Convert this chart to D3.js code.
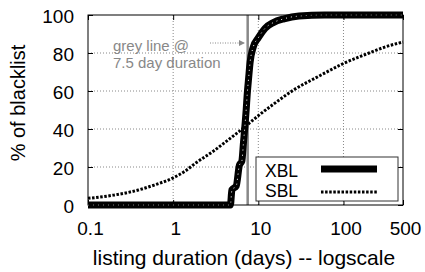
<!DOCTYPE html>
<html>
<head>
<meta charset="utf-8">
<script src="https://cdn.jsdelivr.net/npm/d3@7"></script>
<style>
  body { margin: 0; background: #fff; }
  svg { font-family: "Liberation Sans", Arial, sans-serif; }
</style>
</head>
<body>
<div id="chart"></div>
<script>
// listing duration (days) vs cumulative % of blacklist
const xblDays = [0.1, 4.7, 4.9, 5.5, 6.0, 6.4, 6.7, 7.2, 7.4, 7.7, 8.0, 8.7, 10, 12, 15, 20, 30, 60, 500];
const xblPct  = [0,   0,   8,   10,  21,  23,  33,  50,  58,  67,  75,  83,  88, 93, 96, 98, 99.5, 100, 100];

const sblDays = [0.1, 0.2, 0.39, 0.6, 1, 1.4, 1.8, 3, 4.5, 6.4, 10, 15, 27, 50, 100, 200, 300, 500];
const sblPct  = [3.5, 5.2, 7.9, 10.5, 14.3, 18, 21.8, 28.5, 34.5, 39.8, 47, 53, 61, 67.5, 74.5, 80, 83, 85.8];

const xTicks = [0.1, 1, 10, 100, 500];
const xTickLabels = ['0.1', '1', '10', '100', '500'];
const yTicks = [0, 20, 40, 60, 80, 100];
const greyLineDays = 7.5;

const width = 425, height = 272;
const margin = { top: 15, right: 22, bottom: 67, left: 88 };
const innerW = width - margin.left - margin.right;
const innerH = height - margin.top - margin.bottom;

const svg = d3.select('#chart').append('svg')
  .attr('width', width)
  .attr('height', height);

const g = svg.append('g')
  .attr('transform', `translate(${margin.left},${margin.top})`);

const x = d3.scaleLog().domain([0.1, 500]).range([0, innerW]);
const y = d3.scaleLinear().domain([0, 100]).range([innerH, 0]);

// dotted grid
g.append('g')
  .selectAll('line.gx')
  .data([1, 10, 100])
  .enter().append('line')
  .attr('x1', d => x(d)).attr('x2', d => x(d))
  .attr('y1', 0).attr('y2', innerH)
  .attr('stroke', '#888').attr('stroke-width', 1)
  .attr('stroke-dasharray', '1,2');
g.append('g')
  .selectAll('line.gy')
  .data([20, 40, 60, 80])
  .enter().append('line')
  .attr('x1', 0).attr('x2', innerW)
  .attr('y1', d => y(d)).attr('y2', d => y(d))
  .attr('stroke', '#888').attr('stroke-width', 1)
  .attr('stroke-dasharray', '1,2');

// axes with inward ticks
const xAxis = g.append('g')
  .attr('transform', `translate(0,${innerH})`)
  .call(d3.axisBottom(x).tickValues(xTicks)
    .tickFormat((d, i) => xTickLabels[i]).tickSize(-5).tickPadding(17));
const xAxisTop = g.append('g')
  .call(d3.axisTop(x).tickValues(xTicks).tickFormat('').tickSize(-5));
const yAxis = g.append('g')
  .call(d3.axisLeft(y).tickValues(yTicks).tickSize(-5).tickPadding(14));
const yAxisRight = g.append('g')
  .attr('transform', `translate(${innerW},0)`)
  .call(d3.axisRight(y).tickValues(yTicks).tickFormat('').tickSize(-5));

[xAxis, xAxisTop, yAxis, yAxisRight].forEach(a => {
  a.select('.domain').remove();
  a.selectAll('text').style('font-size', '19px').attr('fill', '#000')
    .style('font-family', '"Liberation Sans", Arial, sans-serif');
  a.selectAll('line').attr('stroke', '#000');
});
xAxis.selectAll('text').attr('dy', '0.71em').attr('dx', 2);
yAxis.selectAll('text').attr('dy', '0.38em');

// grey line at 7.5 days
g.append('line')
  .attr('x1', x(greyLineDays)).attr('x2', x(greyLineDays))
  .attr('y1', 0).attr('y2', innerH)
  .attr('stroke', '#888').attr('stroke-width', 2.5);

const line = d3.line()
  .x(d => x(d[0]))
  .y(d => y(d[1]));

const sblData = sblDays.map((d, i) => [d, sblPct[i]]);
const xblData = xblDays.map((d, i) => [d, xblPct[i]]);

// SBL dotted
g.append('path')
  .datum(sblData)
  .attr('d', line.curve(d3.curveMonotoneX))
  .attr('fill', 'none')
  .attr('stroke', '#000')
  .attr('stroke-width', 3)
  .attr('stroke-dasharray', '2.5,1.6');

// XBL thick
const xblLine = d3.line().x(d => x(d[0])).y(d => y(d[1])).curve(d3.curveMonotoneX);
g.append('path')
  .datum(xblData)
  .attr('d', xblLine)
  .attr('fill', 'none')
  .attr('stroke', '#000')
  .attr('stroke-width', 7)
  .attr('stroke-linejoin', 'round');
g.append('path')
  .datum(xblData)
  .attr('d', xblLine)
  .attr('fill', 'none')
  .attr('stroke', '#fff')
  .attr('stroke-width', 1)
  .attr('stroke-dasharray', '1,4');

// frame
g.append('rect')
  .attr('x', 0).attr('y', 0)
  .attr('width', innerW).attr('height', innerH)
  .attr('fill', 'none').attr('stroke', '#000').attr('stroke-width', 1);

// annotation
const ann = g.append('g').attr('fill', '#888')
  .style('font-size', '15px');
ann.append('text').attr('x', 25).attr('y', 35.5).text('grey line @');
ann.append('text').attr('x', 25).attr('y', 53).text('7.5 day duration');

svg.append('defs').append('marker')
  .attr('id', 'arrow')
  .attr('viewBox', '0 0 10 10')
  .attr('refX', 10).attr('refY', 5)
  .attr('markerWidth', 10).attr('markerHeight', 6)
  .attr('markerUnits', 'userSpaceOnUse')
  .attr('orient', 'auto')
  .append('path')
  .attr('d', 'M0,0 L10,5 L0,10 Z')
  .attr('fill', '#888');

g.append('line')
  .attr('x1', 122).attr('x2', 157)
  .attr('y1', 28).attr('y2', 28)
  .attr('stroke', '#888').attr('stroke-width', 1)
  .attr('stroke-dasharray', '1,1.5')
  .attr('marker-end', 'url(#arrow)');

// legend
const legend = g.append('g').attr('transform', 'translate(168,142)');
legend.append('rect')
  .attr('width', 142).attr('height', 44)
  .attr('fill', '#fff').attr('stroke', '#333').attr('stroke-width', 1);
const legendItems = ['XBL', 'SBL'];
legend.selectAll('text')
  .data(legendItems)
  .enter().append('text')
  .attr('x', 9)
  .attr('y', (d, i) => 20 + i * 20.3)
  .style('font-size', '17.5px')
  .attr('fill', '#000')
  .text(d => d);
legend.append('line')
  .attr('x1', 65).attr('x2', 121).attr('y1', 12).attr('y2', 12)
  .attr('stroke', '#000').attr('stroke-width', 7);
legend.append('line')
  .attr('x1', 65).attr('x2', 121).attr('y1', 35).attr('y2', 35)
  .attr('stroke', '#000').attr('stroke-width', 3)
  .attr('stroke-dasharray', '2.5,1.6');

// axis titles
svg.append('text')
  .attr('x', 244)
  .attr('y', 265)
  .attr('text-anchor', 'middle')
  .style('font-size', '21px')
  .text('listing duration (days) -- logscale');

svg.append('text')
  .attr('transform', 'translate(25,103) rotate(-90)')
  .attr('text-anchor', 'middle')
  .style('font-size', '20px')
  .text('% of blacklist');
</script>
</body>
</html>
